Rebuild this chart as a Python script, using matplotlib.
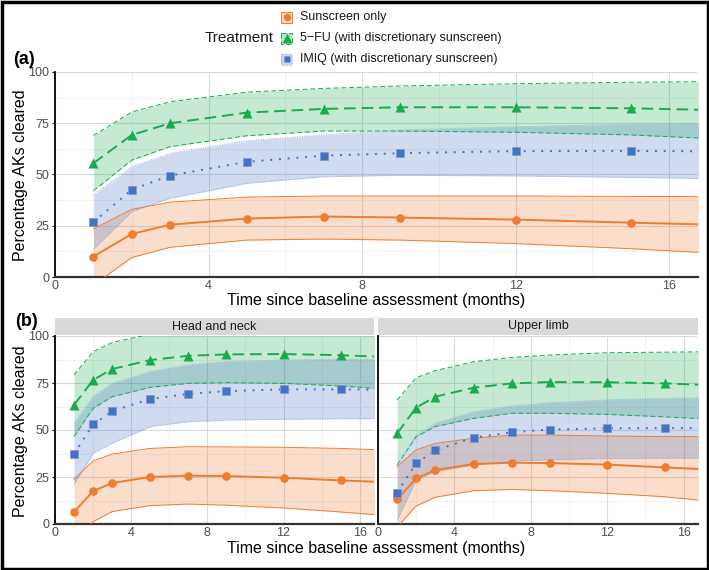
import numpy as np
import matplotlib.pyplot as plt
from matplotlib.patches import Rectangle

plt.rcParams['font.family'] = ['Liberation Sans', 'DejaVu Sans']

# meses en los que hay estimacion (el ultimo solo prolonga la curva hasta el borde)
meses = [1, 2, 3, 5, 7, 9, 12, 15, 17]
n_puntos = 8

tratamientos = ['Sunscreen only', '5\u2212FU (with discretionary sunscreen)',
                'IMIQ (with discretionary sunscreen)']

# (a) todas las localizaciones
sun_a = [10, 21, 25.5, 28.5, 29.5, 29, 28, 26.5, 25.6]
sun_a_lo = [-4, 9.5, 14.5, 18, 18.5, 18, 16.3, 13.8, 11.8]
sun_a_hi = [23.5, 33, 36.5, 39, 39.5, 39.5, 39.5, 39.3, 39.2]
fu_a = [55.5, 69.3, 75, 80.2, 82, 82.8, 82.8, 82.3, 81.5]
fu_a_lo = [42, 57, 63.6, 68.9, 71.2, 71.2, 70.6, 69.3, 67.6]
fu_a_hi = [69, 80.5, 85.5, 90.2, 92, 93.2, 94.3, 95, 95.3]
imiq_a = [26.8, 42.6, 49.5, 56.2, 59.2, 60.4, 61.4, 61.5, 61.3]
imiq_a_lo = [13.5, 31.9, 38.4, 45.7, 48.9, 49.6, 49.3, 48.6, 48]
imiq_a_hi = [40, 53.8, 60.3, 66.5, 69.3, 71.7, 73.3, 74.5, 75]

# (b) cabeza y cuello
sun_hn = [6.4, 17.5, 21.8, 25, 25.7, 25.5, 24.6, 23.2, 22.4]
sun_hn_lo = [-8, 1.2, 6.6, 9.8, 10.6, 10, 8.5, 6.4, 4.8]
sun_hn_hi = [23.8, 33.5, 37.2, 40.2, 41.1, 41, 40.8, 40.2, 39.5]
fu_hn = [63.3, 76.6, 82.4, 87.2, 89.5, 90.2, 90.4, 89.8, 89]
fu_hn_lo = [46.5, 61.5, 67.7, 72.7, 74.8, 75.2, 74.8, 73.4, 72]
fu_hn_hi = [79.3, 91.7, 96.5, 101, 103, 104, 104, 104, 103.5]
imiq_hn = [37.2, 53, 60, 66.5, 69.2, 70.7, 71.6, 71.6, 71.4]
imiq_hn_lo = [21, 37.6, 43, 51.8, 54.4, 55.3, 55.7, 56, 56]
imiq_hn_hi = [53.5, 67.7, 74.8, 81, 84.6, 86.4, 87.2, 87.6, 87.5]

# (b) miembro superior
sun_ul = [13.1, 24.3, 28.7, 31.9, 32.6, 32.4, 31.6, 30.1, 29.2]
sun_ul_lo = [-1.8, 9.6, 14.2, 17.7, 18.4, 17.7, 16.3, 14.5, 12.5]
sun_ul_hi = [30.5, 39.4, 42.9, 45.6, 47.3, 47.3, 46.8, 46.5, 46.5]
fu_ul = [48.2, 61.9, 67.7, 72.5, 74.8, 75.5, 75.4, 74.8, 74]
fu_ul_lo = [31.4, 46.5, 51.8, 56.2, 58.9, 58.9, 58.3, 57, 56]
fu_ul_hi = [66, 77.8, 81.6, 86.3, 88.6, 89.9, 91.1, 91.4, 91.6]
imiq_ul = [16.7, 32.3, 39.2, 45.9, 48.8, 50.2, 50.9, 51, 51]
imiq_ul_lo = [2, 23.4, 27.8, 31.4, 33.5, 34.2, 34.8, 35, 35]
imiq_ul_hi = [31.4, 47.3, 53.5, 59.7, 62.8, 64.5, 66, 66.8, 67.2]

colores = ['#ED7D31', '#1AAB4F', '#4472C4']
bordes = ['#ED7D31', '#1AAB4F', '#8FA6D6']
marcadores = ['o', '^', 's']
tam_marc = [6.2, 7.5, 5.8]
estilos = ['-', (0, (6, 3)), (0, (1, 3.5))]
estilos_borde = ['-', (0, (5, 3)), (0, (1, 1.5))]

W, H = 709, 570
fig = plt.figure(figsize=(W / 100, H / 100), dpi=100)


def caja(l, t, r, b):
    return [l / W, 1 - b / H, (r - l) / W, (b - t) / H]


def pintar_panel(ax, series, etiquetas_y=True):
    for i, (y, lo, hi) in enumerate(series):
        ax.fill_between(meses, lo, hi, color=colores[i], alpha=0.25, lw=0, zorder=2)
        ax.plot(meses, lo, color=bordes[i], lw=0.7, ls=estilos_borde[i], zorder=3)
        ax.plot(meses, hi, color=bordes[i], lw=0.7, ls=estilos_borde[i], zorder=3)
    for i, (y, lo, hi) in enumerate(series):
        ax.plot(meses, y, color=colores[i], lw=1.4, ls=estilos[i], zorder=4)
        ax.plot(meses[:n_puntos], y[:n_puntos], marcadores[i], color=colores[i],
                ms=tam_marc[i], mec='none' if i != 2 else '#7F9BD3', mew=0.6, zorder=5)
    ax.set_xlim(0, 16.75)
    ax.set_ylim(0, 100)
    ax.set_xticks([0, 4, 8, 12, 16])
    ax.set_xticks([2, 6, 10, 14], minor=True)
    ax.set_yticks([0, 25, 50, 75, 100])
    ax.set_yticks([12.5, 37.5, 62.5, 87.5], minor=True)
    ax.grid(which='major', color='#DADADA', lw=0.8, zorder=0)
    ax.grid(which='minor', color='#EFEFEF', lw=0.6, zorder=0)
    ax.set_axisbelow(True)
    for s in ['top', 'right']:
        ax.spines[s].set_visible(False)
    ax.spines['left'].set_color('black')
    ax.spines['left'].set_linewidth(1.3)
    ax.spines['bottom'].set_color('#333333')
    ax.spines['bottom'].set_linewidth(1.6)
    ax.tick_params(which='major', length=2.5, width=0.8, labelsize=9,
                   labelcolor='#4D4D4D', pad=1.5)
    ax.tick_params(axis='x', length=0, pad=2.5)
    ax.tick_params(which='minor', length=0)
    if not etiquetas_y:
        ax.tick_params(axis='y', labelleft=False, length=0)


def pintar_tira(caja_px, texto):
    ax_t = fig.add_axes(caja(*caja_px))
    ax_t.set_facecolor('#D9D9D9')
    ax_t.set_xticks([])
    ax_t.set_yticks([])
    for s in ax_t.spines.values():
        s.set_visible(False)
    ax_t.text(0.5, 0.5, texto, ha='center', va='center', fontsize=9, color='#1A1A1A',
              transform=ax_t.transAxes)


# %% panel (a)
ax_a = fig.add_axes(caja(55, 72, 698, 277))
pintar_panel(ax_a, [(sun_a, sun_a_lo, sun_a_hi), (fu_a, fu_a_lo, fu_a_hi),
                    (imiq_a, imiq_a_lo, imiq_a_hi)])

# %% panel (b)
ax_hn = fig.add_axes(caja(55, 336, 374, 524))
pintar_panel(ax_hn, [(sun_hn, sun_hn_lo, sun_hn_hi), (fu_hn, fu_hn_lo, fu_hn_hi),
                     (imiq_hn, imiq_hn_lo, imiq_hn_hi)])
ax_ul = fig.add_axes(caja(378, 336, 698, 524))
pintar_panel(ax_ul, [(sun_ul, sun_ul_lo, sun_ul_hi), (fu_ul, fu_ul_lo, fu_ul_hi),
                     (imiq_ul, imiq_ul_lo, imiq_ul_hi)], etiquetas_y=False)
pintar_tira((55, 318, 374, 335), 'Head and neck')
pintar_tira((378, 318, 698, 335), 'Upper limb')

# %% textos, leyenda y marco
ov = fig.add_axes([0, 0, 1, 1], facecolor='none')
ov.set_xlim(0, W)
ov.set_ylim(H, 0)
ov.axis('off')

titulo_x = 'Time since baseline assessment (months)'
titulo_y = 'Percentage AKs cleared'
ov.text(376, 301, titulo_x, ha='center', va='center', fontsize=11.5, color='black')
ov.text(376, 549, titulo_x, ha='center', va='center', fontsize=11.5, color='black')
ov.text(21, 175, titulo_y, ha='center', va='center', rotation=90, fontsize=11.5)
ov.text(21, 431, titulo_y, ha='center', va='center', rotation=90, fontsize=11.5)
ov.text(13, 59, '(a)', ha='left', va='center', fontsize=13, fontweight='bold')
ov.text(15, 321, '(b)', ha='left', va='center', fontsize=13, fontweight='bold')

filas_y = [17, 38, 59]
ov.text(274, filas_y[1], 'Treatment', ha='right', va='center', fontsize=11, color='#1A1A1A')
for i, nombre in enumerate(tratamientos):
    yc = filas_y[i]
    ov.add_patch(Rectangle((281, yc - 5.5), 11, 11, facecolor=colores[i], alpha=0.3,
                           edgecolor='none'))
    ov.add_patch(Rectangle((281, yc - 5.5), 11, 11, facecolor='none',
                           edgecolor=bordes[i], lw=0.7, ls=estilos_borde[i]))
    ov.plot([286.5], [yc], marcadores[i], color=colores[i], ms=tam_marc[i] - 0.8, mec='none')
    ov.text(300, yc, nombre, ha='left', va='center', fontsize=9, color='#1A1A1A')

ov.add_patch(Rectangle((1.5, 1.5), W - 3, H - 3, facecolor='none', edgecolor='black', lw=2.5))

fig.savefig('out.png', dpi=100)
